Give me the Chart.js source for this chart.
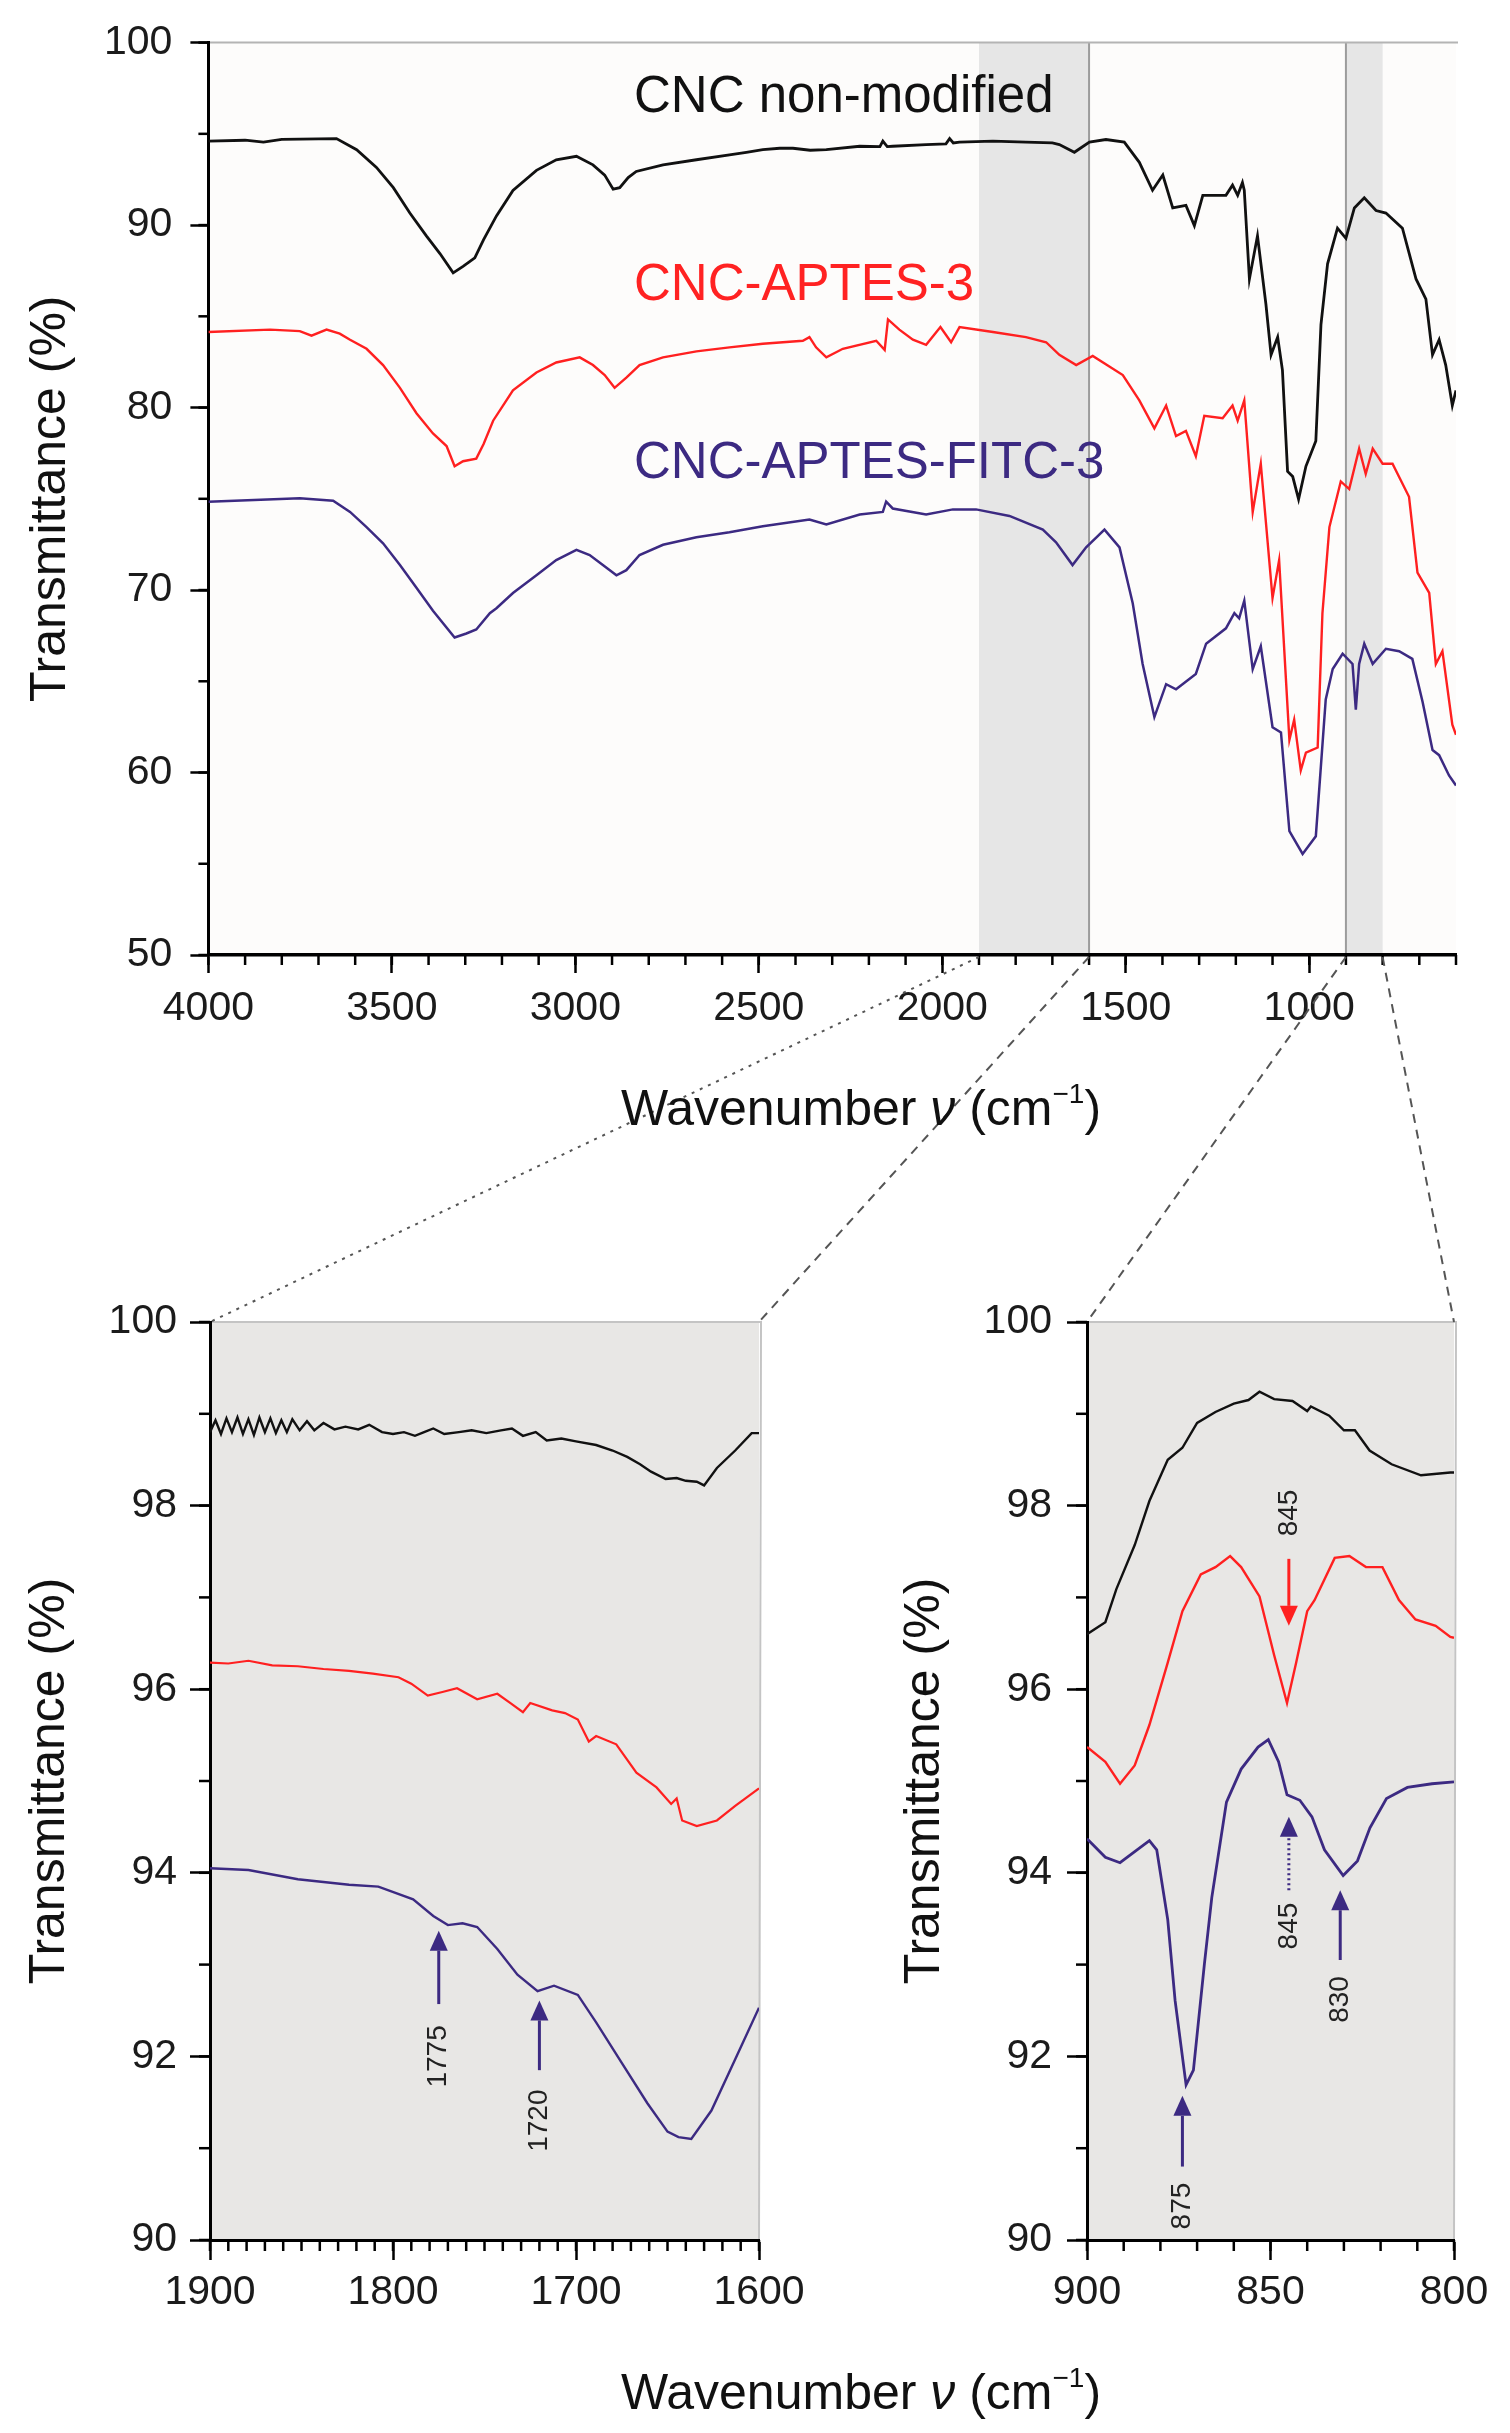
<!DOCTYPE html>
<html>
<head>
<meta charset="utf-8">
<script src="https://cdn.jsdelivr.net/npm/chart.js@4.4.1/dist/chart.umd.min.js"></script>
<style>
  body { margin: 0; background: #fff; width: 1510px; height: 2433px; position: relative; overflow: hidden;
         font-family: "Liberation Sans", Arial, sans-serif; }
  canvas { position: absolute; }
  .lbl { position: absolute; font-size: 51px; line-height: 50px; white-space: nowrap; }
  .xt { position: absolute; font-size: 50px; line-height: 50px; white-space: nowrap; transform: translateX(-50%); color: #111; }
  .xt sup { font-size: 28px; position: relative; top: -4px; }
</style>
</head>
<body>
<canvas id="topChart" width="1510" height="1070" style="left:0;top:0"></canvas>
<canvas id="leftChart" width="830" height="1113" style="left:0;top:1280px"></canvas>
<canvas id="rightChart" width="650" height="1113" style="left:860px;top:1280px"></canvas>
<canvas id="links" width="1510" height="2433" style="left:0;top:0;pointer-events:none"></canvas>

<div class="lbl" style="left:634px;top:70px;color:#111">CNC non-modified</div>
<div class="lbl" style="left:634px;top:258px;color:#ff2222">CNC-APTES-3</div>
<div class="lbl" style="left:634px;top:436px;color:#3c2a82">CNC-APTES-FITC-3</div>
<div class="xt" style="left:861px;top:1073px">Wavenumber <i>ν</i> (cm<sup>−1</sup>)</div>
<div class="xt" style="left:861px;top:2357px">Wavenumber <i>ν</i> (cm<sup>−1</sup>)</div>

<script>
// ---- full spectra, 4000-600 cm-1 : [wavenumber, transmittance %]
const topCnc = [[4000,94.6],[3900,94.65],[3850,94.55],[3800,94.7],[3700,94.72],[3651,94.74],[3596,94.13],[3542,93.16],
  [3496,92.05],[3451,90.66],[3406,89.41],[3369,88.44],[3333,87.38],[3306,87.74],[3274,88.2],[3250,89.2],[3215,90.5],
  [3170,91.9],[3106,93.0],[3052,93.58],[2997,93.77],[2952,93.3],[2920,92.74],[2897,91.97],[2879,92.05],[2856,92.6],
  [2834,92.94],[2761,93.3],[2670,93.58],[2580,93.85],[2534,93.99],[2489,94.13],[2443,94.21],[2407,94.21],[2360,94.1],
  [2316,94.13],[2225,94.32],[2170,94.3],[2162,94.6],[2150,94.3],[2135,94.32],[2044,94.41],[1990,94.45],[1980,94.74],
  [1970,94.5],[1953,94.55],[1862,94.6],[1772,94.55],[1700,94.5],[1681,94.41],[1640,93.99],[1599,94.55],[1554,94.69],
  [1504,94.55],[1463,93.44],[1427,91.91],[1399,92.74],[1372,90.94],[1336,91.08],[1313,89.97],[1290,91.63],[1227,91.63],
  [1209,92.19],[1195,91.63],[1182,92.33],[1177,91.91],[1163,87.05],[1141,89.41],[1118,85.66],[1104,82.89],[1086,83.86],
  [1073,82.05],[1059,76.5],[1045,76.22],[1029,74.97],[1009,76.78],[982,78.17],[968,84.55],[950,87.88],[923,89.83],
  [900,89.27],[877,90.94],[850,91.49],[818,90.8],[791,90.66],[746,89.83],[709,87.05],[682,85.94],[664,82.89],
  [646,83.72],[628,82.33],[610,80.11],[600,80.94]];
const topAptes = [[4000,84.14],[3832,84.27],[3751,84.19],[3719,83.94],[3678,84.27],[3642,84.05],[3614,83.72],[3569,83.22],
  [3524,82.33],[3478,81.08],[3433,79.69],[3388,78.58],[3351,77.89],[3329,76.78],[3306,77.06],[3270,77.2],[3250,78.0],
  [3224,79.28],[3170,80.94],[3106,81.92],[3052,82.47],[2988,82.75],[2952,82.33],[2920,81.78],[2893,81.08],[2861,81.64],
  [2825,82.33],[2761,82.75],[2670,83.08],[2580,83.3],[2489,83.5],[2380,83.66],[2362,83.86],[2344,83.3],[2316,82.75],
  [2271,83.22],[2180,83.66],[2157,83.16],[2148,84.83],[2117,84.27],[2080,83.72],[2044,83.44],[2005,84.41],[1976,83.58],
  [1953,84.41],[1862,84.14],[1772,83.86],[1717,83.58],[1681,82.89],[1635,82.33],[1590,82.83],[1508,81.78],[1463,80.39],
  [1422,78.86],[1390,80.11],[1363,78.44],[1336,78.72],[1309,77.33],[1286,79.55],[1236,79.42],[1209,80.11],[1195,79.28],
  [1177,80.39],[1154,74.28],[1132,76.92],[1100,69.56],[1082,71.64],[1054,61.79],[1041,62.9],[1023,60.12],[1009,61.09],
  [977,61.37],[964,68.73],[945,73.45],[914,75.95],[891,75.53],[864,77.75],[846,76.36],[827,77.75],[800,76.92],
  [773,76.92],[728,75.11],[705,70.95],[673,69.84],[655,65.95],[637,66.65],[610,62.62],[600,62.07]];
const topFitc = [[4000,74.84],[3751,75.03],[3660,74.89],[3614,74.28],[3569,73.45],[3524,72.56],[3478,71.37],[3433,70.12],
  [3388,68.87],[3329,67.4],[3297,67.62],[3270,67.84],[3233,68.73],[3215,69.0],[3170,69.84],[3106,70.81],[3052,71.64],
  [2997,72.2],[2961,71.92],[2925,71.37],[2888,70.81],[2861,71.09],[2825,71.92],[2761,72.48],[2670,72.89],[2580,73.17],
  [2489,73.5],[2362,73.86],[2316,73.59],[2225,74.14],[2162,74.28],[2153,74.84],[2135,74.47],[2044,74.14],[1971,74.42],
  [1908,74.42],[1817,74.06],[1726,73.31],[1690,72.62],[1645,71.37],[1608,72.34],[1558,73.31],[1517,72.34],[1481,69.28],
  [1454,65.95],[1422,63.04],[1390,64.84],[1363,64.56],[1309,65.4],[1281,67.06],[1227,67.9],[1204,68.73],[1191,68.45],
  [1177,69.42],[1154,65.67],[1132,66.92],[1100,62.48],[1077,62.2],[1054,56.79],[1018,55.54],[982,56.51],[955,64.01],
  [936,65.67],[909,66.51],[882,65.95],[873,63.45],[864,65.95],[850,67.06],[827,65.95],[791,66.78],[755,66.65],
  [719,66.23],[691,63.87],[664,61.23],[646,60.95],[619,59.84],[600,59.29]];

// ---- zoom 1900-1600 cm-1
const midCnc = [[1900,98.8],[1897,98.93],[1894,98.78],[1891,98.95],[1888,98.8],[1885,98.96],[1882,98.78],[1879,98.94],
  [1876,98.77],[1873,98.96],[1870,98.8],[1867,98.95],[1864,98.79],[1861,98.93],[1858,98.8],[1855,98.94],[1851,98.82],
  [1847,98.92],[1843,98.82],[1838,98.9],[1832,98.83],[1826,98.86],[1819,98.83],[1813,98.88],[1806,98.8],[1800,98.78],
  [1794,98.8],[1788,98.76],[1783,98.8],[1778,98.84],[1772,98.78],[1764,98.8],[1757,98.82],[1749,98.79],[1741,98.82],
  [1735,98.84],[1729,98.76],[1722,98.8],[1716,98.71],[1708,98.73],[1700,98.7],[1689,98.66],[1680,98.6],[1672,98.53],
  [1665,98.45],[1659,98.37],[1651,98.29],[1645,98.3],[1640,98.27],[1634,98.26],[1630,98.22],[1623,98.41],[1613,98.6],
  [1604,98.79],[1600,98.79]];
const midAptes = [[1900,96.29],[1890,96.28],[1879,96.31],[1866,96.26],[1852,96.25],[1838,96.22],[1824,96.2],[1811,96.17],
  [1797,96.13],[1790,96.06],[1781,95.93],[1773,95.97],[1765,96.01],[1754,95.89],[1743,95.95],[1736,95.85],[1729,95.75],
  [1725,95.85],[1713,95.77],[1706,95.74],[1699,95.67],[1693,95.43],[1689,95.49],[1678,95.4],[1667,95.09],[1656,94.93],
  [1648,94.75],[1645,94.81],[1642,94.57],[1634,94.51],[1623,94.57],[1613,94.73],[1600,94.92]];
const midFitc = [[1900,94.05],[1879,94.03],[1852,93.93],[1824,93.87],[1808,93.85],[1789,93.71],[1778,93.53],[1770,93.43],
  [1762,93.45],[1754,93.41],[1743,93.17],[1732,92.89],[1721,92.71],[1712,92.77],[1699,92.67],[1689,92.37],[1675,91.93],
  [1661,91.49],[1650,91.18],[1644,91.12],[1637,91.1],[1626,91.41],[1613,91.97],[1600,92.53]];

// ---- zoom 900-800 cm-1
const lowCnc = [[900,96.6],[895,96.73],[892,97.09],[887,97.57],[883,98.05],[878,98.5],[874,98.63],[870,98.9],[865,99.02],
  [860,99.11],[856,99.15],[853,99.24],[849,99.16],[844,99.14],[840,99.03],[839,99.08],[834,98.98],[830,98.82],[827,98.82],
  [823,98.6],[817,98.45],[809,98.33],[801,98.36],[800,98.36]];
const lowAptes = [[900,95.37],[895,95.21],[891,94.97],[887,95.17],[883,95.61],[878,96.29],[874,96.85],[869,97.25],
  [865,97.33],[861,97.45],[858,97.33],[853,97.01],[849,96.37],[845.5,95.85],[843,96.29],[840,96.85],[838,96.97],
  [832.5,97.43],[828.5,97.45],[824,97.33],[819.5,97.33],[815,96.97],[810.5,96.76],[805,96.69],[801,96.57],[800,96.56]];
const lowFitc = [[900,94.37],[895,94.17],[891,94.11],[887,94.23],[883,94.35],[881,94.25],[878,93.49],[876,92.61],
  [873,91.69],[871,91.85],[868,93.01],[866,93.73],[862,94.77],[858,95.13],[853.4,95.37],[850.6,95.45],[847.8,95.21],
  [845.5,94.85],[842,94.79],[838.7,94.61],[835.3,94.25],[830.2,93.97],[826.3,94.13],[822.9,94.49],[818.4,94.81],
  [812.7,94.93],[806,94.97],[800,94.99]];

// tick values
const topXTicks = [4000, 3500, 3000, 2500, 2000, 1500, 1000];
const topYTicks = [50, 60, 70, 80, 90, 100];
const midXTicks = [1900, 1800, 1700, 1600];
const lowXTicks = [900, 850, 800];
const zoomYTicks = [90, 92, 94, 96, 98, 100];

// peak markers in the zoom panels
const midArrowWn = [1775, 1720];
const midArrowTail = [92.57, 91.85];
const midArrowHead = [93.37, 92.61];
const midArrowText = ['1775', '1720'];
const midArrowTextAt = [92.0, 91.3];
const lowArrowWn = [845, 874, 845, 831];
const lowArrowTail = [97.42, 90.8, 93.81, 93.05];
const lowArrowHead = [96.69, 91.57, 94.61, 93.81];
const lowArrowText = ['845', '875', '845', '830'];
const lowArrowTextAt = [97.92, 90.37, 93.42, 92.62];

const BLACK = '#111111', RED = '#ff2020', PURPLE = '#3c2a82';
const FONT = '"Liberation Sans", Arial, sans-serif';
Chart.defaults.font.family = FONT;

const pts = a => a.map(([x, y]) => ({x, y}));

const paper = {
  id: 'paper',
  beforeDraw(chart, args, o) {
    const {ctx, chartArea: a, scales: {x}} = chart;
    ctx.save();
    ctx.fillStyle = o.bg;
    ctx.fillRect(a.left, a.top, a.right - a.left, a.bottom - a.top);
    (o.bands || []).forEach(([from, to]) => {
      const x1 = x.getPixelForValue(from), x2 = x.getPixelForValue(to);
      ctx.fillStyle = '#e6e6e6';
      ctx.fillRect(Math.min(x1, x2), a.top, Math.abs(x2 - x1), a.bottom - a.top);
    });
    ctx.strokeStyle = '#9c9c9c';
    ctx.lineWidth = 2;
    (o.marks || []).forEach(v => {
      const px = x.getPixelForValue(v);
      ctx.beginPath(); ctx.moveTo(px, a.top); ctx.lineTo(px, a.bottom); ctx.stroke();
    });
    ctx.strokeStyle = o.frame;
    ctx.beginPath(); ctx.moveTo(a.left, a.top); ctx.lineTo(a.right + 2, a.top);
    if (o.rightEdge) ctx.lineTo(a.right, a.bottom);
    ctx.stroke();
    ctx.restore();
  },
  afterDraw(chart, args, o) {
    const {ctx, chartArea: a, scales: {x, y}} = chart;
    ctx.save();
    ctx.strokeStyle = '#000';
    ctx.lineWidth = 2.5;
    const n = Math.round((x.max - x.min) / o.xStep);
    for (let i = 0; i <= n; i++) {
      const px = x.getPixelForValue(x.min + i * o.xStep);
      ctx.beginPath(); ctx.moveTo(px, a.bottom); ctx.lineTo(px, a.bottom + o.minor); ctx.stroke();
    }
    const m = Math.round((y.max - y.min) / o.yStep);
    for (let i = 0; i <= m; i++) {
      const py = y.getPixelForValue(y.min + i * o.yStep);
      ctx.beginPath(); ctx.moveTo(a.left, py); ctx.lineTo(a.left - o.minor, py); ctx.stroke();
    }
    ctx.restore();
  }
};

const arrows = {
  id: 'arrows',
  afterDatasetsDraw(chart, args, o) {
    if (!o.wn) return;
    const {ctx, scales: {x, y}} = chart;
    o.wn.forEach((v, i) => {
      const px = x.getPixelForValue(v);
      const yt = y.getPixelForValue(o.tail[i]), yh = y.getPixelForValue(o.head[i]);
      const dir = Math.sign(yh - yt), hl = 20, hw = 9;
      ctx.save();
      ctx.strokeStyle = ctx.fillStyle = o.color[i];
      ctx.lineWidth = 3;
      if (o.dotted[i]) ctx.setLineDash([2, 3]);
      ctx.beginPath(); ctx.moveTo(px, yt); ctx.lineTo(px, yh - dir * hl); ctx.stroke();
      ctx.setLineDash([]);
      ctx.beginPath();
      ctx.moveTo(px, yh); ctx.lineTo(px - hw, yh - dir * hl); ctx.lineTo(px + hw, yh - dir * hl);
      ctx.closePath(); ctx.fill();
      ctx.translate(px, y.getPixelForValue(o.at[i]));
      ctx.rotate(-Math.PI / 2);
      ctx.fillStyle = '#222';
      ctx.font = '28px ' + FONT;
      ctx.textAlign = 'center';
      ctx.textBaseline = 'middle';
      ctx.fillText(o.text[i], 0, 0);
      ctx.restore();
    });
  }
};

function series(data, color, width) {
  return { data: pts(data), borderColor: color, borderWidth: width, showLine: true, pointRadius: 0, tension: 0 };
}

function axis(opts) {
  return {
    type: 'linear',
    min: opts.min, max: opts.max, reverse: !!opts.reverse,
    afterBuildTicks: s => { s.ticks = opts.ticks.map(value => ({value})); },
    afterFit: s => { if (opts.width) s.width = opts.width; if (opts.height) s.height = opts.height; },
    ticks: { autoSkip: false, maxRotation: 0, padding: opts.pad, color: '#1b1b1b', font: {size: 41},
             callback: v => String(v) },
    grid: { drawOnChartArea: false, drawTicks: true, tickLength: opts.tick, tickWidth: 2.5, tickColor: '#000' },
    border: { display: true, color: '#000', width: opts.border },
    title: opts.title ? { display: true, text: 'Transmittance (%)', color: '#111', font: {size: 50}, padding: {top: opts.title} } : {display: false}
  };
}

function makeChart(id, cfg) {
  return new Chart(document.getElementById(id), {
    type: 'scatter',
    data: { datasets: cfg.datasets },
    options: {
      responsive: false, animation: false, devicePixelRatio: 1,
      layout: { padding: cfg.padding },
      scales: { x: cfg.x, y: cfg.y },
      plugins: { legend: {display: false}, tooltip: {enabled: false}, paper: cfg.paper, arrows: cfg.arrows || {} }
    },
    plugins: [paper, arrows]
  });
}

const topChart = makeChart('topChart', {
  datasets: [series(topCnc, BLACK, 2.8), series(topAptes, RED, 2.4), series(topFitc, PURPLE, 2.5)],
  padding: {left: 0, top: 35.5, right: 54, bottom: 0},
  x: axis({min: 600, max: 4000, reverse: true, ticks: topXTicks, height: 115, tick: 18, pad: 11, border: 3.5}),
  y: axis({min: 50, max: 100, ticks: topYTicks, width: 208.4, tick: 18, pad: 18, border: 3, title: 21}),
  paper: {bg: '#fdfcfb', frame: '#b4b4b4', bands: [[1900, 1600], [900, 800]], marks: [1600, 900], xStep: 100, yStep: 5, minor: 10}
});

const leftChart = makeChart('leftChart', {
  datasets: [series(midCnc, BLACK, 2.4), series(midAptes, RED, 2.2), series(midFitc, PURPLE, 2.4)],
  padding: {left: 0, top: 42, right: 71, bottom: 0},
  x: axis({min: 1600, max: 1900, reverse: true, ticks: midXTicks, height: 153, tick: 20, pad: 8, border: 3}),
  y: axis({min: 90, max: 100, ticks: zoomYTicks, width: 210, tick: 20, pad: 13, border: 3, title: 20}),
  paper: {bg: '#e8e7e5', frame: '#c4c4c4', rightEdge: true, xStep: 10, yStep: 1, minor: 11},
  arrows: {wn: midArrowWn, tail: midArrowTail, head: midArrowHead, text: midArrowText, at: midArrowTextAt,
           color: [PURPLE, PURPLE], dotted: [false, false]}
});

const rightChart = makeChart('rightChart', {
  datasets: [series(lowCnc, BLACK, 2.4), series(lowAptes, RED, 2.4), series(lowFitc, PURPLE, 2.8)],
  padding: {left: 0, top: 42, right: 56, bottom: 0},
  x: axis({min: 800, max: 900, reverse: true, ticks: lowXTicks, height: 153, tick: 20, pad: 8, border: 3}),
  y: axis({min: 90, max: 100, ticks: zoomYTicks, width: 227, tick: 20, pad: 15, border: 3, title: 35}),
  paper: {bg: '#e8e7e5', frame: '#c4c4c4', rightEdge: true, xStep: 10, yStep: 1, minor: 11},
  arrows: {wn: lowArrowWn, tail: lowArrowTail, head: lowArrowHead, text: lowArrowText, at: lowArrowTextAt,
           color: [RED, PURPLE, PURPLE, PURPLE], dotted: [false, false, true, false]}
});

// dashed guide lines from the shaded bands down to the zoom panels
(function drawLinks() {
  const ctx = document.getElementById('links').getContext('2d');
  const tx = topChart.scales.x, base = topChart.chartArea.bottom + 2;
  const off = c => ({dx: c.canvas.offsetLeft, dy: c.canvas.offsetTop});
  const L = off(leftChart), R = off(rightChart);
  const la = leftChart.chartArea, ra = rightChart.chartArea;
  const links = [
    [1900, la.left + L.dx, la.top + L.dy, [3, 6]],
    [1600, la.right + L.dx, la.top + L.dy, [9, 7]],
    [900, ra.left + R.dx, ra.top + R.dy, [9, 7]],
    [800, ra.right + R.dx, ra.top + R.dy, [9, 7]]
  ];
  ctx.strokeStyle = '#555';
  ctx.lineWidth = 2;
  links.forEach(([wn, x2, y2, dash]) => {
    ctx.setLineDash(dash);
    ctx.beginPath();
    ctx.moveTo(tx.getPixelForValue(wn), base);
    ctx.lineTo(x2, y2);
    ctx.stroke();
  });
})();
</script>
</body>
</html>
